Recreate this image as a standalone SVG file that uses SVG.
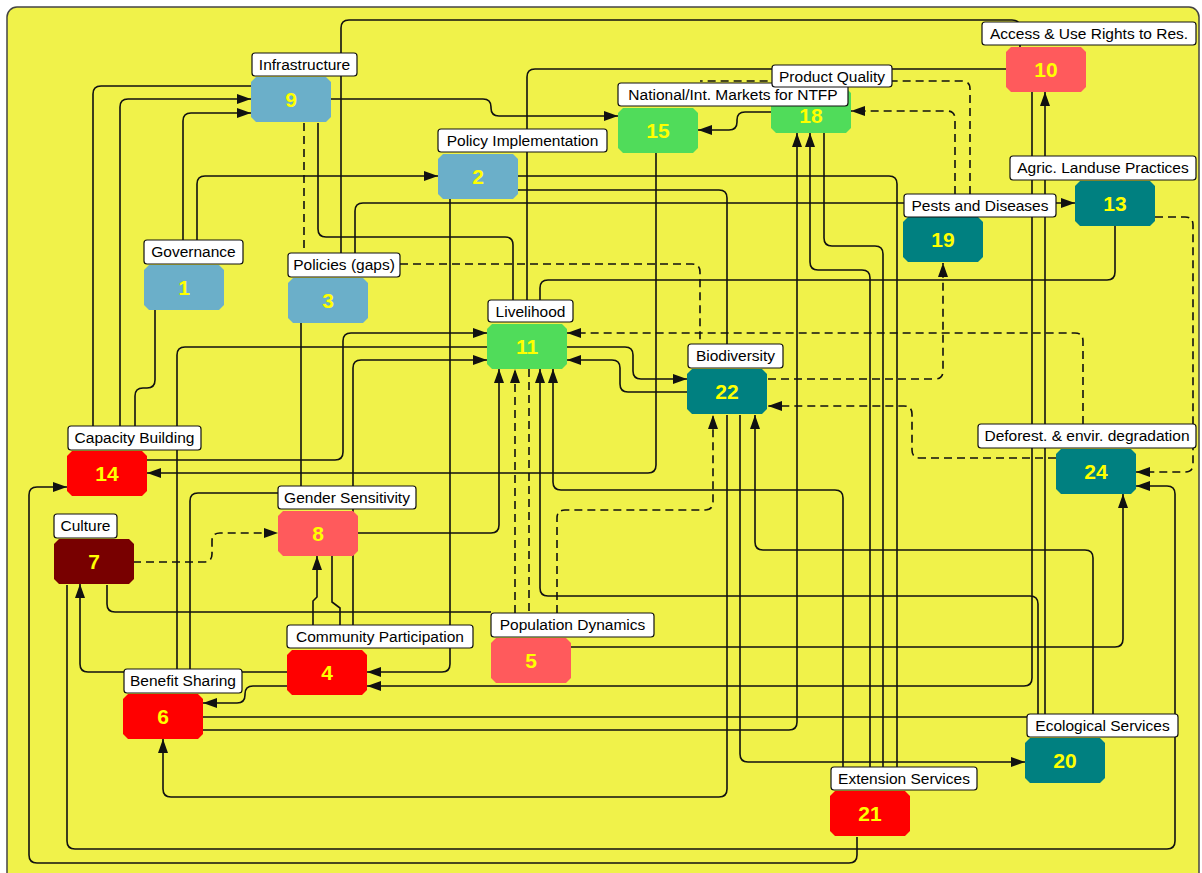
<svg xmlns="http://www.w3.org/2000/svg" xmlns:xlink="http://www.w3.org/1999/xlink" width="1202" height="873" viewBox="0 0 1202 873">
<style>
.c{fill:none;stroke:#111;stroke-width:1.6}
.d{stroke-dasharray:8 5}
.lb{fill:#fff;stroke:#111;stroke-width:1.2}
.lt{font-family:"Liberation Sans",Arial,sans-serif;font-size:15.5px;fill:#000;text-anchor:middle}
.num{font-family:"Liberation Sans",Arial,sans-serif;font-size:21px;font-weight:bold;fill:#ff0;text-anchor:middle}
.blue{fill:#6bafc9}.green{fill:#50dc5a}.teal{fill:#008080}.salmon{fill:#ff5a5c}.red{fill:#f00}.maroon{fill:#780000}
</style>
<defs>
<path id="box" d="M5,0 H75 L80,5 V40 L75,45 H5 L0,40 V5 Z"/>
<marker id="ar" viewBox="0 0 14 10" refX="14" refY="5" markerWidth="14" markerHeight="10" markerUnits="userSpaceOnUse" orient="auto">
<path d="M0,0 L14,5 L0,10 Z" fill="#111"/>
</marker>
</defs>
<rect x="0" y="0" width="1202" height="873" fill="#fff"/>
<rect x="7" y="7" width="1192" height="880" rx="10" fill="#f0f24a" stroke="#444" stroke-width="1.5"/>
<g id="connectors">
<path class="c" d="M251 86 H101 Q93 86 93 94 V426"/>
<path class="c" d="M120 426 V107 Q120 99 128 99 H251" marker-end="url(#ar)"/>
<path class="c" d="M183 240 V121 Q183 113 191 113 H251" marker-end="url(#ar)"/>
<path class="c" d="M197 240 V184 Q197 176 205 176 H438" marker-end="url(#ar)"/>
<path class="c d" d="M304 123 V253"/>
<path class="c" d="M318 123 V229 Q318 237 326 237 H505 Q513 237 513 245 V300"/>
<path class="c" d="M341 253 V28 Q341 20 349 20 H1012 Q1020 20 1020 28 V47"/>
<path class="c" d="M355 253 V211 Q355 203 363 203 H1075" marker-end="url(#ar)"/>
<path class="c" d="M331 99 H483 Q491 99 491 107 V108 Q491 116 499 116 H618" marker-end="url(#ar)"/>
<path class="c" d="M1006 69 H535 Q527 69 527 77 V300"/>
<path class="c d" d="M970 194 V89 Q970 81 962 81 H700"/>
<path class="c d" d="M955 194 V119 Q955 111 947 111 H851" marker-end="url(#ar)"/>
<path class="c" d="M771 112 H745 Q737 112 737 120 V122 Q737 130 729 130 H698" marker-end="url(#ar)"/>
<path class="c" d="M518 176 H889 Q897 176 897 184 V767"/>
<path class="c" d="M518 190 H719 Q727 190 727 198 V345"/>
<path class="c" d="M450 199 V664 Q450 672 442 672 H367" marker-end="url(#ar)"/>
<path class="c d" d="M400 264 H692 Q700 264 700 272 V345"/>
<path class="c" d="M1115 226 V272 Q1115 280 1107 280 H548 Q540 280 540 288 V300"/>
<path class="c d" d="M768 379 H935 Q943 379 943 371 V263" marker-end="url(#ar)"/>
<path class="c" d="M656 153 V465 Q656 473 648 473 H147" marker-end="url(#ar)"/>
<path class="c" d="M147 460 H335 Q343 460 343 452 V341 Q343 333 351 333 H487" marker-end="url(#ar)"/>
<path class="c" d="M487 347 H185 Q177 347 177 355 V669"/>
<path class="c" d="M353 625 V368 Q353 360 361 360 H487" marker-end="url(#ar)"/>
<path class="c d" d="M1083 424 V341 Q1083 333 1075 333 H567" marker-end="url(#ar)"/>
<path class="c" d="M567 347 H625 Q633 347 633 355 V371 Q633 379 641 379 H687" marker-end="url(#ar)"/>
<path class="c" d="M687 392 H628 Q620 392 620 384 V368 Q620 360 612 360 H567" marker-end="url(#ar)"/>
<path class="c d" d="M1056 458 H920 Q912 458 912 450 V414 Q912 406 904 406 H768" marker-end="url(#ar)"/>
<path class="c d" d="M557 613 V518 Q557 510 565 510 H705 Q713 510 713 502 V415" marker-end="url(#ar)"/>
<path class="c d" d="M515 613 V369" marker-end="url(#ar)"/>
<path class="c d" d="M529 369 V613"/>
<path class="c" d="M358 533 H491 Q499 533 499 525 V369" marker-end="url(#ar)"/>
<path class="c" d="M1038 714 V604 Q1038 596 1030 596 H548 Q540 596 540 588 V369" marker-end="url(#ar)"/>
<path class="c" d="M843 767 V498 Q843 490 835 490 H561 Q553 490 553 482 V369" marker-end="url(#ar)"/>
<path class="c" d="M727 415 V789 Q727 797 719 797 H171 Q163 797 163 789 V739" marker-end="url(#ar)"/>
<path class="c" d="M740 415 V754 Q740 762 748 762 H1025" marker-end="url(#ar)"/>
<path class="c" d="M1093 714 V558 Q1093 550 1085 550 H763 Q755 550 755 542 V415" marker-end="url(#ar)"/>
<path class="c d" d="M1155 217 H1185 Q1193 217 1193 225 V464 Q1193 472 1185 472 H1136" marker-end="url(#ar)"/>
<path class="c" d="M67 585 V841 Q67 849 75 849 H1167 Q1175 849 1175 841 V494 Q1175 486 1167 486 H1136" marker-end="url(#ar)"/>
<path class="c" d="M857 837 V855 Q857 863 849 863 H37 Q29 863 29 855 V495 Q29 487 37 487 H67" marker-end="url(#ar)"/>
<path class="c" d="M155 310 V380 Q155 388 147 388 H143 Q135 388 135 396 V426"/>
<path class="c" d="M1032 91 V678 Q1032 686 1024 686 H367" marker-end="url(#ar)"/>
<path class="c" d="M1045 714 V92" marker-end="url(#ar)"/>
<path class="c" d="M571 647 H1115 Q1123 647 1123 639 V494" marker-end="url(#ar)"/>
<path class="c" d="M203 717 H1027"/>
<path class="c" d="M203 730 H789 Q797 730 797 722 V133" marker-end="url(#ar)"/>
<path class="c" d="M870 767 V278 Q870 270 862 270 H818 Q810 270 810 262 V133" marker-end="url(#ar)"/>
<path class="c" d="M824 133 V238 Q824 246 832 246 H875 Q883 246 883 254 V767"/>
<path class="c" d="M287 672 H88 Q80 672 80 664 V584" marker-end="url(#ar)"/>
<path class="c" d="M287 686 H253 Q245 686 245 694 V695 Q245 703 237 703 H203" marker-end="url(#ar)"/>
<path class="c" d="M278 493 H198 Q190 493 190 501 V669"/>
<path class="c d" d="M133 562 H204 Q212 562 212 554 V541 Q212 533 220 533 H278" marker-end="url(#ar)"/>
<path class="c" d="M313 625 V601 L317 597 V556" marker-end="url(#ar)"/>
<path class="c" d="M332 556 V602 L340 608 V625"/>
<path class="c" d="M301 323 V486"/>
<path class="c" d="M107 585 V604 Q107 612 115 612 H491"/>
</g>
<g id="n1"><use href="#box" x="144" y="265" class="blue"/><text class="num" x="184" y="295">1</text><rect class="lb" x="144" y="240" width="99" height="24" rx="3"/><text class="lt" x="193.5" y="257">Governance</text></g>
<g id="n2"><use href="#box" x="438" y="154" class="blue"/><text class="num" x="478" y="184">2</text><rect class="lb" x="438" y="129" width="169" height="23" rx="3"/><text class="lt" x="522.5" y="146">Policy Implementation</text></g>
<g id="n3"><use href="#box" x="288" y="278" class="blue"/><text class="num" x="328" y="308">3</text><rect class="lb" x="288" y="253" width="112" height="24" rx="3"/><text class="lt" x="344" y="270">Policies (gaps)</text></g>
<g id="n4"><use href="#box" x="287" y="650" class="red"/><text class="num" x="327" y="680">4</text><rect class="lb" x="287" y="625" width="186" height="23" rx="3"/><text class="lt" x="380" y="642">Community Participation</text></g>
<g id="n5"><use href="#box" x="491" y="638" class="salmon"/><text class="num" x="531" y="668">5</text><rect class="lb" x="491" y="613" width="163" height="24" rx="3"/><text class="lt" x="572.5" y="630">Population Dynamics</text></g>
<g id="n6"><use href="#box" x="123" y="694" class="red"/><text class="num" x="163" y="724">6</text><rect class="lb" x="124" y="669" width="118" height="24" rx="3"/><text class="lt" x="183" y="686">Benefit Sharing</text></g>
<g id="n7"><use href="#box" x="54" y="539" class="maroon"/><text class="num" x="94" y="569">7</text><rect class="lb" x="54" y="514" width="63" height="24" rx="3"/><text class="lt" x="85.5" y="531">Culture</text></g>
<g id="n8"><use href="#box" x="278" y="511" class="salmon"/><text class="num" x="318" y="541">8</text><rect class="lb" x="278" y="486" width="138" height="23" rx="3"/><text class="lt" x="347" y="503">Gender Sensitivity</text></g>
<g id="n9"><use href="#box" x="251" y="77" class="blue"/><text class="num" x="291" y="107">9</text><rect class="lb" x="252" y="53" width="105" height="23" rx="3"/><text class="lt" x="304.5" y="70">Infrastructure</text></g>
<g id="n10"><use href="#box" x="1006" y="47" class="salmon"/><text class="num" x="1046" y="77">10</text><rect class="lb" x="982" y="22" width="214" height="23" rx="3"/><text class="lt" x="1089" y="39">Access &amp; Use Rights to Res.</text></g>
<g id="n11"><use href="#box" x="487" y="324" class="green"/><text class="num" x="527" y="354">11</text><rect class="lb" x="488" y="300" width="85" height="22" rx="3"/><text class="lt" x="530.5" y="316.5">Livelihood</text></g>
<g id="n13"><use href="#box" x="1075" y="181" class="teal"/><text class="num" x="1115" y="211">13</text><rect class="lb" x="1010" y="156" width="186" height="24" rx="3"/><text class="lt" x="1103" y="173">Agric. Landuse Practices</text></g>
<g id="n14"><use href="#box" x="67" y="451" class="red"/><text class="num" x="107" y="481">14</text><rect class="lb" x="68" y="426" width="133" height="24" rx="3"/><text class="lt" x="134.5" y="443">Capacity Building</text></g>
<g id="n18"><use href="#box" x="771" y="88" class="green"/><text class="num" x="811" y="123">18</text></g>
<g id="n15"><use href="#box" x="618" y="108" class="green"/><text class="num" x="658" y="138">15</text><rect class="lb" x="618" y="83" width="230" height="23" rx="3"/><text class="lt" x="733" y="100">National/Int. Markets for NTFP</text></g>
<g id="n18-label"><rect class="lb" x="772" y="65" width="120" height="22" rx="3"/><text class="lt" x="832" y="81.5">Product Quality</text></g>
<g id="n19"><use href="#box" x="903" y="217" class="teal"/><text class="num" x="943" y="247">19</text><rect class="lb" x="904" y="194" width="152" height="23" rx="3"/><text class="lt" x="980" y="211">Pests and Diseases</text></g>
<g id="n20"><use href="#box" x="1025" y="738" class="teal"/><text class="num" x="1065" y="768">20</text><rect class="lb" x="1027" y="714" width="151" height="23" rx="3"/><text class="lt" x="1102.5" y="731">Ecological Services</text></g>
<g id="n21"><use href="#box" x="830" y="791" class="red"/><text class="num" x="870" y="821">21</text><rect class="lb" x="831" y="767" width="146" height="23" rx="3"/><text class="lt" x="904" y="784">Extension Services</text></g>
<g id="n22"><use href="#box" x="687" y="369" class="teal"/><text class="num" x="727" y="399">22</text><rect class="lb" x="688" y="344" width="95" height="24" rx="3"/><text class="lt" x="735.5" y="361">Biodiversity</text></g>
<g id="n24"><use href="#box" x="1056" y="449" class="teal"/><text class="num" x="1096" y="479">24</text><rect class="lb" x="978" y="424" width="218" height="24" rx="3"/><text class="lt" x="1087" y="441">Deforest. &amp; envir. degradation</text></g>
</svg>
